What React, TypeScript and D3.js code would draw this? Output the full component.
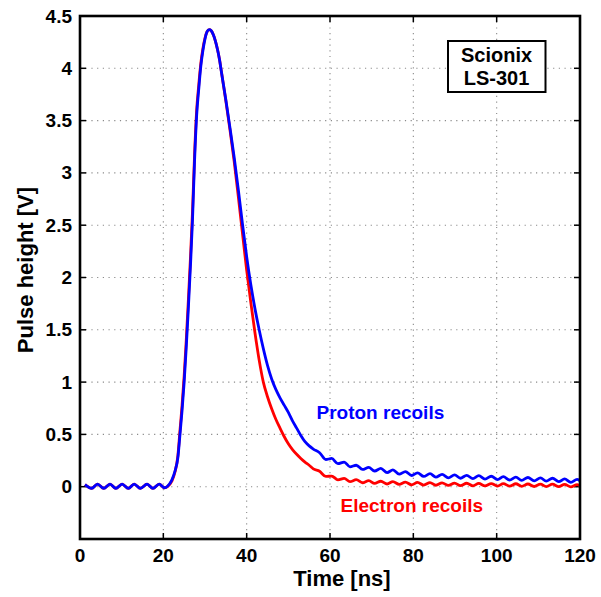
import React from "react";
import * as d3 from "d3";

// Time samples [ns]
const time = [
  1.2, 2.8, 4.2, 5.7, 7.2, 8.6, 10.1, 11.6, 13.0, 14.5, 16.1, 17.5, 19.0, 20.3,
  21.0, 22.0, 22.8, 23.5, 24.0, 24.5, 25.0, 25.5, 26.0, 26.5, 27.0, 27.5, 28.0, 28.5,
  29.0, 29.5, 30.0, 30.5, 31.0, 31.5, 32.0, 32.5, 33.0, 33.5, 34.0, 35.0, 36.0, 37.0,
  38.0, 39.0, 40.0, 41.0, 42.0, 43.0, 44.0, 45.0, 46.0, 47.0, 48.0, 49.0, 50.0, 51.0,
  52.0, 53.0, 54.0, 55.0, 56.0,
  57.5, 59.0, 60.4, 61.9, 63.4, 64.8, 66.3, 67.8, 69.3, 70.7, 72.2, 73.7, 75.1, 76.6,
  78.1, 79.6, 81.0, 82.5, 84.0, 85.4, 86.9, 88.4, 89.9, 91.3, 92.8, 94.3, 95.7, 97.2,
  98.7, 100.2, 101.6, 103.1, 104.6, 106.0, 107.5, 109.0, 110.5, 111.9, 113.4, 114.9,
  116.3, 117.8, 119.3, 120.0,
];

// Proton recoils pulse height [V]
const proton = [
  0.02, -0.015, 0.025, -0.015, 0.025, -0.015, 0.025, -0.015, 0.025, -0.015, 0.025, -0.015, 0.025, -0.01,
  0.005, 0.06, 0.15, 0.28, 0.5, 0.73, 1.0, 1.33, 1.7, 2.1, 2.55, 3.12, 3.55, 3.8,
  4.02, 4.17, 4.28, 4.35, 4.37, 4.36, 4.32, 4.26, 4.18, 4.08, 3.95, 3.7, 3.43, 3.15,
  2.84, 2.51, 2.2, 1.93, 1.7, 1.5, 1.32, 1.16, 1.03, 0.93, 0.85, 0.78, 0.71, 0.63,
  0.56, 0.49, 0.43, 0.39, 0.36,
  0.325, 0.26, 0.27, 0.22, 0.235, 0.19, 0.205, 0.165, 0.185, 0.15, 0.175, 0.135, 0.16, 0.12,
  0.145, 0.107, 0.133, 0.098, 0.125, 0.091, 0.118, 0.085, 0.113, 0.081, 0.109, 0.077, 0.105, 0.073,
  0.1, 0.068, 0.096, 0.064, 0.092, 0.06, 0.088, 0.056, 0.085, 0.053, 0.081, 0.048,
  0.075, 0.042, 0.07, 0.055,
];

// Electron recoils pulse height [V]
const electron = [
  0.02, -0.015, 0.025, -0.015, 0.025, -0.015, 0.025, -0.015, 0.025, -0.015, 0.025, -0.015, 0.025, -0.01,
  0.0, 0.05, 0.14, 0.3, 0.54, 0.78, 1.06, 1.4, 1.78, 2.18, 2.63, 3.18, 3.6, 3.84,
  4.05, 4.19, 4.29, 4.35, 4.37, 4.36, 4.32, 4.26, 4.18, 4.08, 3.95, 3.69, 3.41, 3.11,
  2.77, 2.42, 2.07, 1.76, 1.47, 1.21, 1.0, 0.86, 0.745, 0.645, 0.56, 0.48, 0.41, 0.355,
  0.31, 0.27, 0.235, 0.205, 0.17,
  0.147, 0.098, 0.102, 0.066, 0.08, 0.048, 0.067, 0.038, 0.058, 0.031, 0.052, 0.026, 0.048, 0.022,
  0.044, 0.018, 0.041, 0.016, 0.039, 0.014, 0.037, 0.012, 0.035, 0.01, 0.033, 0.008, 0.031, 0.007,
  0.03, 0.006, 0.029, 0.005, 0.028, 0.004, 0.026, 0.002, 0.025, 0.001, 0.024, 0.0,
  0.022, -0.002, 0.02, 0.008,
];

const xTicks = [0, 20, 40, 60, 80, 100, 120];
const yTicks = [0, 0.5, 1, 1.5, 2, 2.5, 3, 3.5, 4, 4.5];
const boxLines = ["Scionix", "LS-301"];

const W = 601;
const H = 597;
const L = 80;
const R = 580;
const T = 16;
const B = 539;
const FONT = "'Liberation Sans', Arial, Helvetica, sans-serif";

export default function App() {
  const x = d3.scaleLinear().domain([0, 120]).range([L, R]);
  const y = d3.scaleLinear().domain([-0.5, 4.5]).range([B, T]);

  const line = d3
    .line<number>()
    .x((_, i) => x(time[i]))
    .y((d) => y(d))
    .curve(d3.curveMonotoneX);

  const tickLen = 6;

  return (
    <svg
      width={W}
      height={H}
      style={{ position: "absolute", left: 0, top: 0, background: "#fff" }}
      fontFamily={FONT}
    >
      <rect x={0} y={0} width={W} height={H} fill="#fff" />
      <defs>
        <clipPath id="plot">
          <rect x={L} y={T} width={R - L} height={B - T} />
        </clipPath>
      </defs>
      {/* grid */}
      <g stroke="#8a8a8a" strokeWidth={1.1} strokeDasharray="1.2,4.5">
        {xTicks
          .filter((v) => v > 0 && v < 120)
          .map((v) => (
            <line key={"gx" + v} x1={x(v)} x2={x(v)} y1={T} y2={B} />
          ))}
        {yTicks
          .filter((v) => v < 4.5)
          .map((v) => (
            <line key={"gy" + v} x1={L} x2={R} y1={y(v)} y2={y(v)} />
          ))}
      </g>
      {/* ticks */}
      <g stroke="#000" strokeWidth={1.5}>
        {xTicks.map((v) => (
          <g key={"tx" + v}>
            <line x1={x(v)} x2={x(v)} y1={B} y2={B - tickLen} />
            <line x1={x(v)} x2={x(v)} y1={T} y2={T + tickLen} />
          </g>
        ))}
        {yTicks.map((v) => (
          <g key={"ty" + v}>
            <line x1={L} x2={L + tickLen} y1={y(v)} y2={y(v)} />
            <line x1={R} x2={R - tickLen} y1={y(v)} y2={y(v)} />
          </g>
        ))}
      </g>
      {/* curves */}
      <g clipPath="url(#plot)" fill="none" strokeWidth={2.8} strokeLinejoin="round">
        <path d={line(electron) || ""} stroke="#ff0000" />
        <path d={line(proton) || ""} stroke="#0000ff" />
      </g>
      {/* frame */}
      <rect x={L} y={T} width={R - L} height={B - T} fill="none" stroke="#000" strokeWidth={2.6} />
      {/* tick labels */}
      <g fontSize={19} fontWeight="bold" fill="#000">
        {xTicks.map((v) => (
          <text key={"lx" + v} x={x(v)} y={562} textAnchor="middle">
            {String(v)}
          </text>
        ))}
        {yTicks.map((v) => (
          <text key={"ly" + v} x={72} y={y(v)} textAnchor="end" dominantBaseline="central">
            {String(v)}
          </text>
        ))}
      </g>
      {/* axis titles */}
      <text x={342} y={586} textAnchor="middle" fontSize={22} fontWeight="bold">
        Time [ns]
      </text>
      <text
        transform={`translate(33,270) rotate(-90)`}
        textAnchor="middle"
        fontSize={22}
        fontWeight="bold"
      >
        Pulse height [V]
      </text>
      {/* annotations */}
      <text x={316.5} y={419} fontSize={19} fontWeight="bold" fill="#0000ff">
        Proton recoils
      </text>
      <text x={340.5} y={512} fontSize={19} fontWeight="bold" fill="#ff0000">
        Electron recoils
      </text>
      {/* box */}
      <rect x={448} y={41} width={97.5} height={51} fill="#fff" stroke="#000" strokeWidth={2} />
      {boxLines.map((s, i) => (
        <text key={s} x={496.5} y={62 + i * 22.5} textAnchor="middle" fontSize={20} fontWeight="bold">
          {s}
        </text>
      ))}
    </svg>
  );
}
